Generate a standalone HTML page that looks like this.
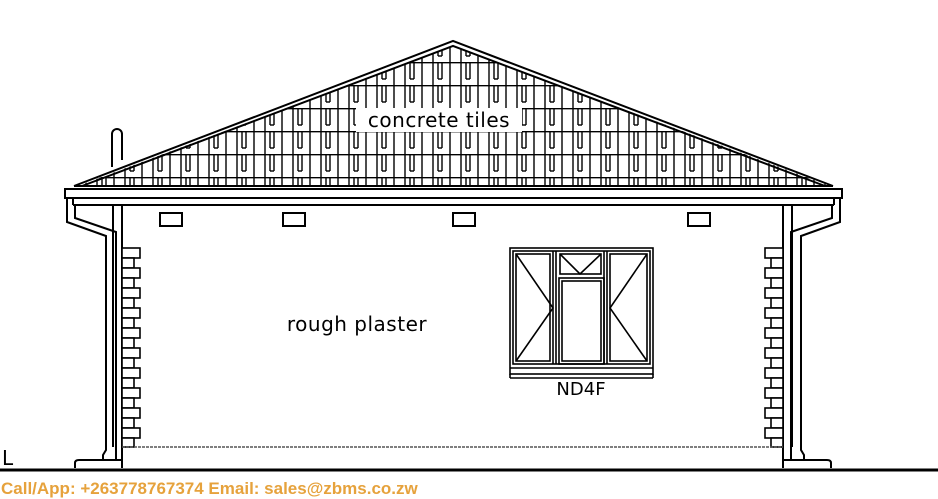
<!DOCTYPE html>
<html><head><style>
html,body{margin:0;padding:0;background:#fff;width:938px;height:499px;overflow:hidden}
svg{display:block}
</style></head><body>
<svg width="938" height="499" viewBox="0 0 938 499" xmlns="http://www.w3.org/2000/svg">
<defs>
<pattern id="tiles" x="0" y="16" width="28" height="23" patternUnits="userSpaceOnUse">
<rect width="28" height="23" fill="#fff"/>
<g stroke="#000" stroke-width="1.4" fill="none">
<line x1="0" y1="0.7" x2="28" y2="0.7"/>
<line x1="2" y1="0" x2="2" y2="23"/>
<line x1="13" y1="0" x2="13" y2="23"/>
<line x1="18" y1="0" x2="18" y2="17"/>
<line x1="22" y1="0" x2="22" y2="17"/>
<line x1="18" y1="17" x2="22" y2="17"/>
</g>
</pattern>
<clipPath id="roofclip"><polygon points="453,46 80,185 828,185"/></clipPath>
</defs>
<g clip-path="url(#roofclip)"><rect x="70" y="40" width="770" height="150" fill="url(#tiles)"/></g>
<rect x="356" y="108" width="166" height="24" fill="#fff"/>
<text x="439" y="127" font-family="DejaVu Sans, sans-serif" font-size="20" text-anchor="middle" letter-spacing="0.5">concrete  tiles</text>
<g stroke="#000" stroke-width="2" fill="none">
<polyline points="74,186 453,41 833,186"/>
<polyline points="82,186 453,46 825,186"/>
<line x1="74" y1="186" x2="833" y2="186"/>
<path d="M112,167 V134 a5,5 0 0 1 10,0 V160" fill="#fff"/>
<rect x="65" y="189" width="777" height="9" fill="#fff"/>
<line x1="73" y1="205" x2="834" y2="205"/>
<line x1="73" y1="198" x2="73" y2="205"/><line x1="834" y1="198" x2="834" y2="205"/>
<line x1="113" y1="205" x2="113" y2="447"/><line x1="122" y1="205" x2="122" y2="468"/>
<line x1="783" y1="205" x2="783" y2="468"/><line x1="792" y1="205" x2="792" y2="447"/>
<polyline points="67,198 67,222 106,236 106,450 103,455 103,461"/>
<polyline points="75,205 75,218 116,232 116,461"/>
<polyline points="840,198 840,222 801,236 801,450 804,455 804,461"/>
<polyline points="832,205 832,218 791,232 791,461"/>
<path d="M75,468 V463 q0,-3 4,-3 H122"/>
<path d="M831,468 V463 q0,-3 -4,-3 H783"/>
<rect x="160" y="213" width="22" height="13"/><rect x="283" y="213" width="22" height="13"/>
<rect x="453" y="213" width="22" height="13"/><rect x="688" y="213" width="22" height="13"/>
</g>
<g stroke="#000" stroke-width="1.6" fill="#fff">
<rect x="122" y="248" width="18" height="10"/><rect x="122" y="258" width="12" height="10"/>
<rect x="122" y="268" width="18" height="10"/><rect x="122" y="278" width="12" height="10"/>
<rect x="122" y="288" width="18" height="10"/><rect x="122" y="298" width="12" height="10"/>
<rect x="122" y="308" width="18" height="10"/><rect x="122" y="318" width="12" height="10"/>
<rect x="122" y="328" width="18" height="10"/><rect x="122" y="338" width="12" height="10"/>
<rect x="122" y="348" width="18" height="10"/><rect x="122" y="358" width="12" height="10"/>
<rect x="122" y="368" width="18" height="10"/><rect x="122" y="378" width="12" height="10"/>
<rect x="122" y="388" width="18" height="10"/><rect x="122" y="398" width="12" height="10"/>
<rect x="122" y="408" width="18" height="10"/><rect x="122" y="418" width="12" height="10"/>
<rect x="122" y="428" width="18" height="10"/><rect x="122" y="438" width="12" height="9"/>
<rect x="765" y="248" width="18" height="10"/><rect x="771" y="258" width="12" height="10"/>
<rect x="765" y="268" width="18" height="10"/><rect x="771" y="278" width="12" height="10"/>
<rect x="765" y="288" width="18" height="10"/><rect x="771" y="298" width="12" height="10"/>
<rect x="765" y="308" width="18" height="10"/><rect x="771" y="318" width="12" height="10"/>
<rect x="765" y="328" width="18" height="10"/><rect x="771" y="338" width="12" height="10"/>
<rect x="765" y="348" width="18" height="10"/><rect x="771" y="358" width="12" height="10"/>
<rect x="765" y="368" width="18" height="10"/><rect x="771" y="378" width="12" height="10"/>
<rect x="765" y="388" width="18" height="10"/><rect x="771" y="398" width="12" height="10"/>
<rect x="765" y="408" width="18" height="10"/><rect x="771" y="418" width="12" height="10"/>
<rect x="765" y="428" width="18" height="10"/><rect x="771" y="438" width="12" height="9"/>
</g>
<line x1="122" y1="447" x2="783" y2="447" stroke="#555" stroke-width="1.5" stroke-dasharray="3,1"/>
<line x1="0" y1="470" x2="938" y2="470" stroke="#000" stroke-width="3"/>
<text x="2" y="465" font-family="DejaVu Sans, sans-serif" font-size="20">L</text>
<g stroke="#000" stroke-width="1.6" fill="none">
<rect x="510" y="248" width="143" height="126"/>
<rect x="513" y="251" width="137" height="113"/>
<line x1="510" y1="368" x2="653" y2="368"/><line x1="510" y1="378" x2="653" y2="378"/>
<line x1="510" y1="374" x2="510" y2="378"/><line x1="653" y1="374" x2="653" y2="378"/>
<line x1="553" y1="251" x2="553" y2="364"/><line x1="556" y1="251" x2="556" y2="364"/>
<line x1="604" y1="251" x2="604" y2="364"/><line x1="607" y1="251" x2="607" y2="364"/>
<rect x="516" y="254" width="34" height="107"/>
<rect x="610" y="254" width="37" height="107"/>
<rect x="560" y="254" width="41" height="20"/>
<rect x="559" y="278" width="45" height="86"/>
<rect x="562" y="281" width="39" height="80"/>
<polyline points="516,254 553,308 516,361"/>
<polyline points="647,254 610,308 647,361"/>
<polyline points="560,254 580,274 601,254"/>
</g>
<text x="581" y="395" font-family="DejaVu Sans, sans-serif" font-size="18" text-anchor="middle">ND4F</text>
<text x="357" y="331" font-family="DejaVu Sans, sans-serif" font-size="20" text-anchor="middle" letter-spacing="0.5">rough  plaster</text>
<text x="1" y="494" font-family="Liberation Sans, sans-serif" font-weight="bold" font-size="17" fill="#e6a23c">Call/App: +263778767374 Email: sales@zbms.co.zw</text>
</svg>
</body></html>
